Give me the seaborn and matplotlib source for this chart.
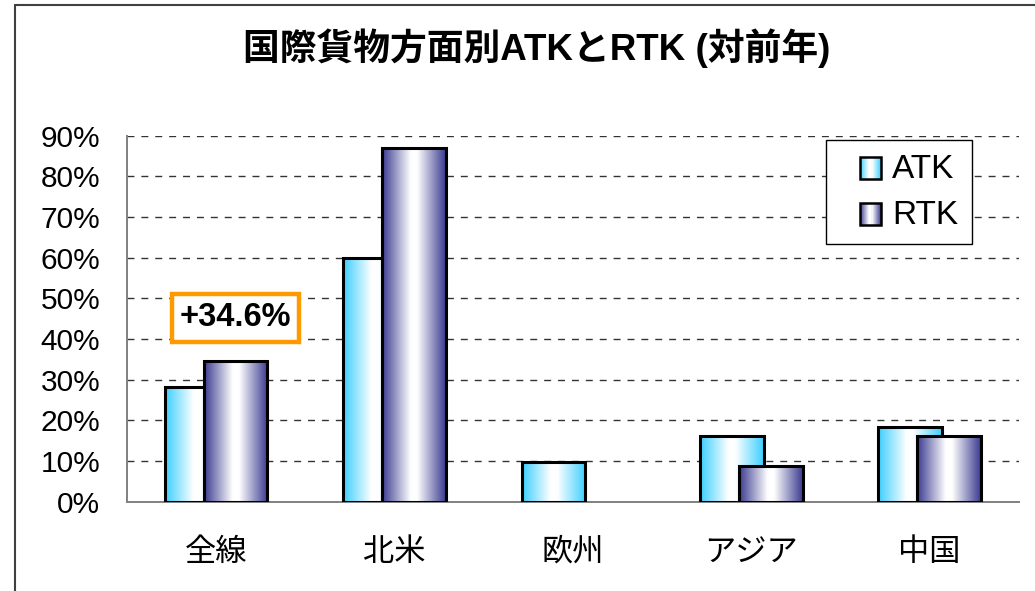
import numpy as np
import pandas as pd
import matplotlib
matplotlib.use("Agg")
import matplotlib.pyplot as plt
import seaborn as sns
from matplotlib.colors import LinearSegmentedColormap
from matplotlib.legend_handler import HandlerBase
from matplotlib.patches import Rectangle
from matplotlib.lines import Line2D
from matplotlib.ticker import FixedLocator, FuncFormatter

# データ(対前年比 %)
categories = ['全線', '北米', '欧州', 'アジア', '中国']
atk = [28.1, 59.9, 9.8, 16.2, 18.3]
rtk = [34.6, 87.0, np.nan, 8.9, 16.1]
series = ['ATK', 'RTK']
yticks = [0, 10, 20, 30, 40, 50, 60, 70, 80, 90]

edge_cols = {'ATK': '#3ccfff', 'RTK': '#3a3a90'}

df = pd.DataFrame({
    'cat': categories * 2,
    'series': ['ATK'] * len(categories) + ['RTK'] * len(categories),
    'val': atk + rtk,
})

sns.set_style("white")
plt.rcParams['font.family'] = ['Liberation Sans', 'Noto Sans CJK JP', 'DejaVu Sans']
plt.rcParams['text.color'] = 'black'
plt.rcParams['xtick.color'] = 'black'
plt.rcParams['ytick.color'] = 'black'


def make_cmap(c):
    return LinearSegmentedColormap.from_list('g', [(0, c), (0.45, 'white'), (0.55, 'white'), (1, c)])


cmaps = {s: make_cmap(edge_cols[s]) for s in series}
grad = np.linspace(0, 1, 256).reshape(1, -1)

fig = plt.figure(figsize=(10.35, 5.91), dpi=100)
ax = fig.add_axes([0.1225, 0.1510, 0.8620, 0.6195])

sns.barplot(data=df, x='cat', y='val', hue='series', order=categories,
            hue_order=series, palette=edge_cols, ax=ax, legend=False)

# 棒を重ねて配置し、グラデーションで塗る
bar_w = 0.357
offs = {'ATK': -0.109, 'RTK': 0.109}
for k, (s, cont) in enumerate(zip(series, ax.containers)):
    for bar in cont:
        h = bar.get_height()
        if not np.isfinite(h) or h == 0:
            bar.set_visible(False)
            continue
        ci = int(round(bar.get_x() + bar.get_width() / 2))
        x0 = ci + offs[s] - bar_w / 2
        bar.set_x(x0)
        bar.set_width(bar_w)
        bar.set_facecolor('none')
        bar.set_edgecolor('black')
        bar.set_linewidth(2.2)
        bar.set_zorder(3 + 2 * k + 1)
        ax.imshow(grad, cmap=cmaps[s], aspect='auto', extent=[x0, x0 + bar_w, 0, h],
                  zorder=3 + 2 * k, interpolation='bicubic')

ax.set_xlim(-0.5, len(categories) - 0.5)
ax.set_ylim(0, 90)
ax.set_xlabel('')
ax.set_ylabel('')

ax.yaxis.set_major_locator(FixedLocator(yticks))
ax.yaxis.set_major_formatter(FuncFormatter(lambda v, p: f'{v:.0f}%'))
ax.tick_params(axis='y', length=0, pad=19, labelsize=21.5)
ax.tick_params(axis='x', which='major', length=0, pad=26, labelsize=22.5)
ax.set_xticks(np.arange(-0.5, len(categories) + 0.5, 1), minor=True)
ax.tick_params(axis='x', which='minor', direction='in', length=10, width=1.3, color='#808080')

for y in yticks[1:]:
    ax.axhline(y, color='#333333', lw=1.0, ls=(0, (5, 5)), zorder=1)

for side in ['top', 'right']:
    ax.spines[side].set_visible(False)
for side in ['left', 'bottom']:
    ax.spines[side].set_color('#808080')
    ax.spines[side].set_linewidth(1.4)


# 凡例(グラデーションの四角、ハンドル枠の右寄せ)
class GradHandler(HandlerBase):
    def create_artists(self, legend, orig, xd, yd, w, h, fs, trans):
        s = orig.get_label()
        sq = h
        x0 = xd + w - sq
        n = 20
        arts = []
        for i in range(n):
            arts.append(Rectangle((x0 + sq * i / n, yd), sq / n + 0.3, sq,
                                  facecolor=cmaps[s]((i + 0.5) / n), edgecolor='none',
                                  transform=trans))
        arts.append(Rectangle((x0, yd), sq, sq, facecolor='none', edgecolor='black',
                              lw=1.8, transform=trans))
        return arts


handles = [Rectangle((0, 0), 1, 1, label=s) for s in series]
leg = ax.legend(handles=handles, labels=series, handler_map={Rectangle: GradHandler()},
                loc='upper right', bbox_to_anchor=(0.947, 0.987), fontsize=24,
                frameon=True, fancybox=False, edgecolor='black', framealpha=1,
                handlelength=1.25, handleheight=0.62, handletextpad=0.33,
                borderpad=0.4, labelspacing=0.45, borderaxespad=0)
leg.get_frame().set_linewidth(1.0)
leg.set_zorder(10)

# 全線 RTK の注記
ax.text(0.109, 45.2, '+34.6%', ha='center', va='center', fontsize=23.5, fontweight='bold',
        zorder=12,
        bbox=dict(boxstyle='square,pad=0.25', facecolor='white', edgecolor='#ff9900', lw=3.2))

fig.text(0.519, 0.918, '国際貨物方面別ATKとRTK (対前年)', ha='center', va='center',
         fontsize=26.5, fontweight='bold')

# 外枠
fig.add_artist(Line2D([0.0145, 0.0145], [0, 0.992], transform=fig.transFigure,
                      color='#404040', lw=1.5))
fig.add_artist(Line2D([0.0145, 1.0], [0.992, 0.992], transform=fig.transFigure,
                      color='#404040', lw=1.5))

fig.savefig('out.png', dpi=100)
